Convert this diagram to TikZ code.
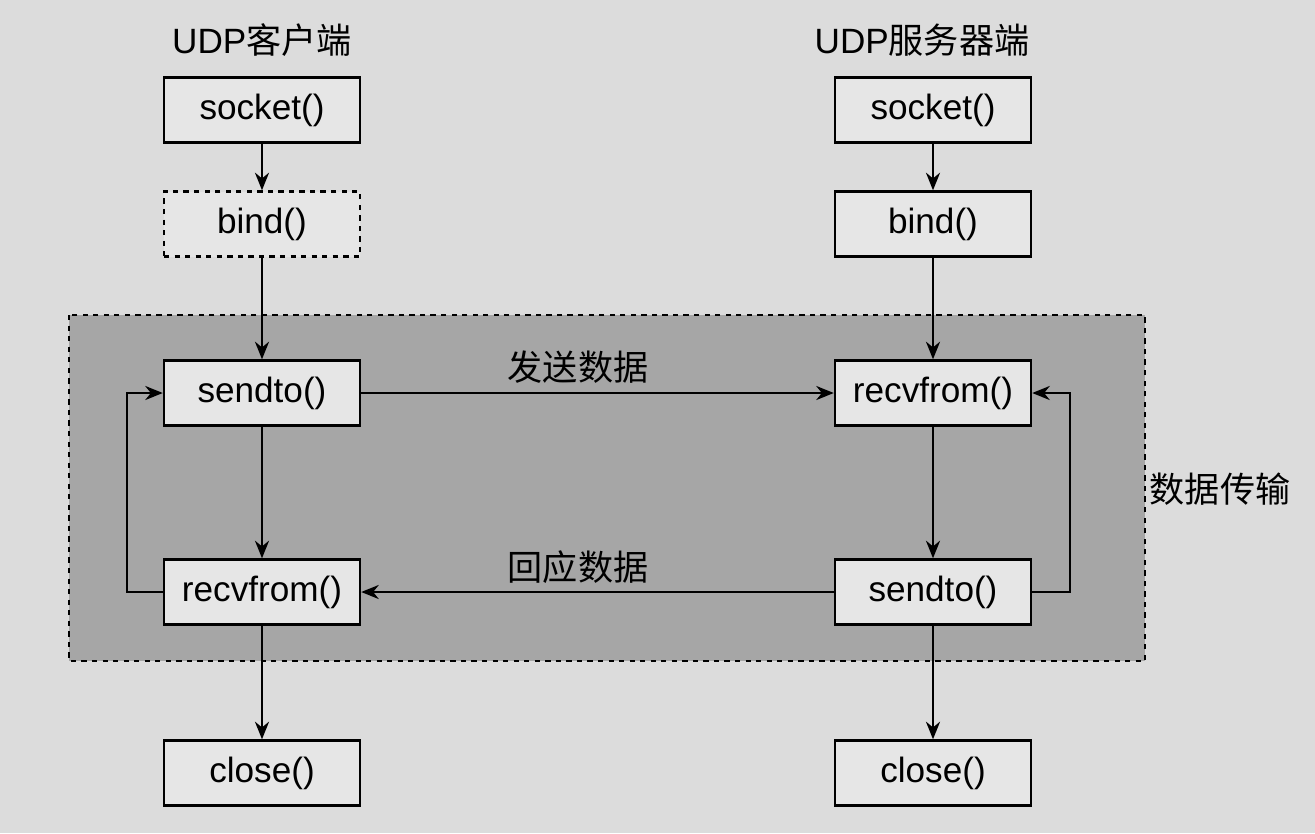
\documentclass[tikz,border=0pt]{standalone}
\usepackage{fontspec}
\setmainfont{Liberation Sans}
\newfontfamily\cjk{Noto Sans CJK SC}
\usetikzlibrary{positioning,arrows.meta}
\definecolor{bgGray}{HTML}{DCDCDC}
\definecolor{boxGray}{HTML}{E6E6E6}
\definecolor{areaGray}{HTML}{A6A6A6}
\tikzset{
  CallNode/.style={rectangle, draw=black, line width=1.4pt, fill=boxGray, minimum width=3.92cm, minimum height=1.3cm, font=\fontsize{20}{24}\selectfont},
  OptNode/.style={CallNode, dashed},
  TextNode/.style={font=\fontsize{20}{24}\selectfont},
  flow/.style={-{Stealth[length=10pt,width=8pt]}, line width=1.4pt}
}
\begin{document}
\begin{tikzpicture}[x=0.02cm,y=-0.02cm]
    \fill[bgGray] (0,0) rectangle (1315,833);
    \useasboundingbox (0,0) rectangle (1315,833);
    \draw[fill=areaGray, dashed, line width=1.2pt] (69,315) rectangle (1145,661);

    \node (ctitle) [TextNode] at (262,40) {UDP{\cjk 客户端}};
    \node (stitle) [TextNode] at (922,40) {UDP{\cjk 服务器端}};

    \node (csocket) [CallNode] at (262,110) {socket()};
    \node (cbind) [OptNode] at (262,224) {bind()};
    \node (csend) [CallNode] at (262,393) {sendto()};
    \node (crecv) [CallNode] at (262,592) {recvfrom()};
    \node (cclose) [CallNode] at (262,773) {close()};

    \node (ssocket) [CallNode] at (933,110) {socket()};
    \node (sbind) [CallNode] at (933,224) {bind()};
    \node (srecv) [CallNode] at (933,393) {recvfrom()};
    \node (ssend) [CallNode] at (933,592) {sendto()};
    \node (sclose) [CallNode] at (933,773) {close()};

    \node (sendlbl) [TextNode] at (578,367) {\cjk 发送数据};
    \node (replylbl) [TextNode] at (578,567) {\cjk 回应数据};
    \node (xferlbl) [TextNode] at (1220,489) {\cjk 数据传输};

    \draw [flow] (csocket) -- (cbind);
    \draw [flow] (cbind) -- (csend);
    \draw [flow] (csend) -- (crecv);
    \draw [flow] (crecv) -- (cclose);
    \draw [flow] (ssocket) -- (sbind);
    \draw [flow] (sbind) -- (srecv);
    \draw [flow] (srecv) -- (ssend);
    \draw [flow] (ssend) -- (sclose);
    \draw [flow] (csend) -- (srecv);
    \draw [flow] (ssend) -- (crecv);
    \draw [flow] (crecv.west) -- ++(-36,0) |- (csend.west);
    \draw [flow] (ssend.east) -- ++(38,0) |- (srecv.east);
\end{tikzpicture}
\end{document}
